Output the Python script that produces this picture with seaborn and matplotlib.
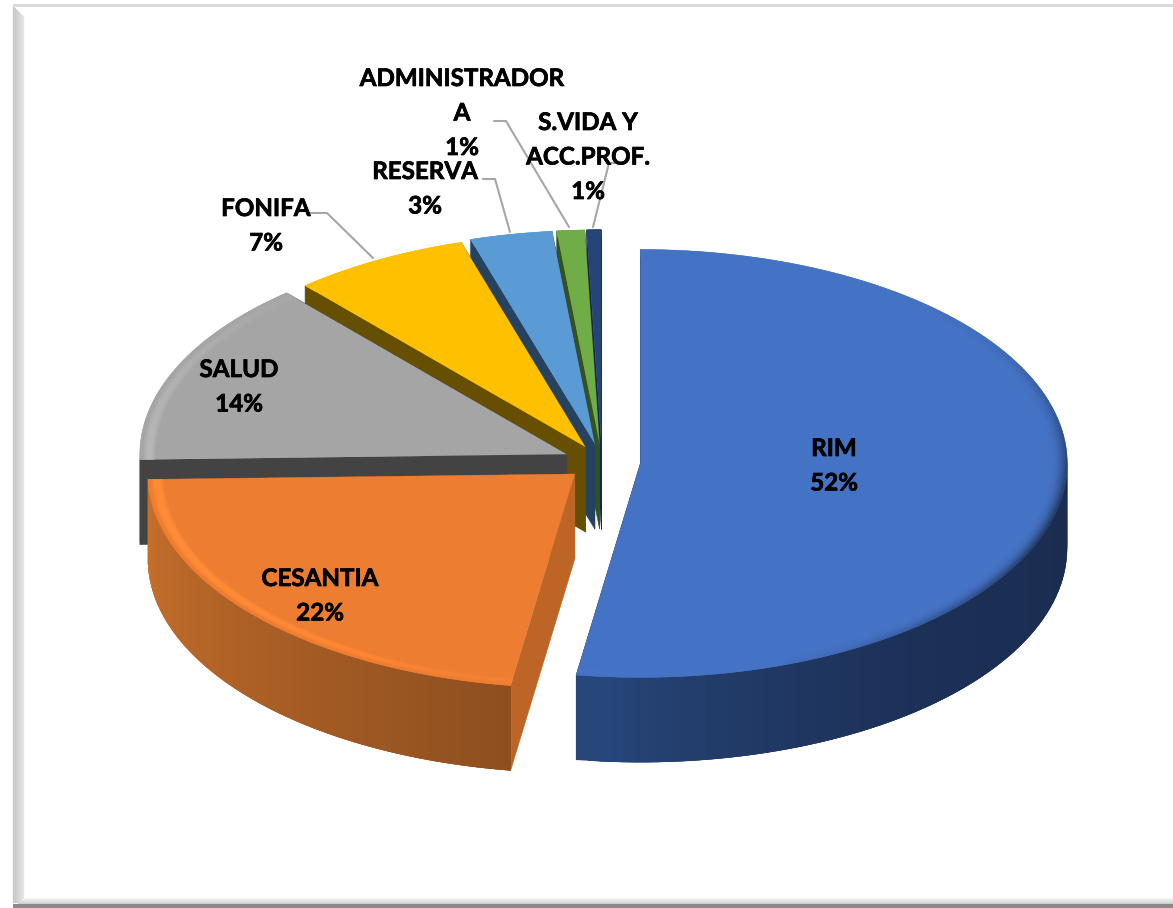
import matplotlib
matplotlib.use("Agg")
import matplotlib.patheffects as pe
import matplotlib.pyplot as plt
import numpy as np
import seaborn as sns
from matplotlib.collections import PolyCollection
from matplotlib.patches import Polygon
from matplotlib.transforms import Affine2D

# datos
categorias = ["RIM", "CESANTIA", "SALUD", "FONIFA", "RESERVA", "ADMINISTRADOR\nA", "S.VIDA Y\nACC.PROF."]
valores = [52.4, 22.2, 14.0, 6.7, 3.1, 1.05, 0.55]
porcentajes = ["52%", "22%", "14%", "7%", "3%", "1%", "1%"]
separacion = [0.09, 0.085, 0.09, 0.08, 0.085, 0.085, 0.085]
colores = ["#4472C4", "#ED7D31", "#A5A5A5", "#FFC000", "#5B9BD5", "#70AD47", "#264478"]
color_corte = ["#24406F", "#BD6526", "#434343", "#664F00", "#254261", "#33521F", "#14284C"]
lado_ini = ["#1A2C50", "#8D4E1F", "#434343", "#664F00", "#254261", "#33521F", "#14284C"]
lado_fin = ["#27467A", "#C8702C", "#434343", "#664F00", "#254261", "#33521F", "#14284C"]
potencia = [6, 1, 1, 1, 1, 1, 1]

# linea base de la primera linea de cada rotulo (px)
pos_rotulos = [(834, 456), (320, 586), (239, 377), (266, 216), (425, 179), (462, 86), (588, 130)]
guias = [
    [(310, 213), (327, 213), (373, 258)],
    [(483, 179), (495, 179), (510, 232)],
    [(494, 121), (506, 121), (569, 227)],
    [(617, 163), (609, 163), (593, 227)],
]

W, H = 1173, 908
CX, CY, RX, RY = 602, 462, 427, 214
PROF = 85 / RY
PASO_LINEA = 34.5

sns.set_theme(style="white")
plt.rcParams["font.family"] = ["Lato", "DejaVu Sans"]
paleta = sns.color_palette(colores)


def mezcla(a, b, t):
    a = np.array(matplotlib.colors.to_rgb(a))
    b = np.array(matplotlib.colors.to_rgb(b))
    return tuple(a + (b - a) * t)


fig = plt.figure(figsize=(W / 100, H / 100), dpi=100, facecolor="white")
ax = fig.add_axes([0, 0, 1, 1])
pix = Affine2D().scale(1 / W, -1 / H).translate(0, 1) + fig.transFigure

cunas, _ = ax.pie(valores, colors=paleta, startangle=90, counterclock=False,
                  explode=separacion, wedgeprops={"linewidth": 0})

n = len(cunas)
for i, w in enumerate(cunas):
    z = (n - i) * 10
    cx, cy = w.center
    t1, t2 = w.theta1, w.theta2
    w.set_zorder(z + 3)
    ang = np.radians(np.linspace(t2, t1, 120))
    x = cx + np.cos(ang)
    y = cy + np.sin(ang)

    # caras de corte
    cortes = []
    for k in (0, -1):
        cortes.append([(cx, cy), (x[k], y[k]), (x[k], y[k] - PROF), (cx, cy - PROF)])
    ax.add_collection(PolyCollection(cortes, facecolors=color_corte[i], edgecolors=color_corte[i],
                                     linewidths=0.4, zorder=z + 1))

    # borde exterior con degradado: cada franja pisa a la siguiente para que no se vean costuras
    franjas, tonos = [], []
    for k in range(len(ang) - 1, 0, -1):
        if np.sin(ang[k]) > 0.0 and np.sin(ang[k - 1]) > 0.0:
            continue
        desde = max(k - 3, 0)
        franjas.append([(x[k], y[k]), (x[desde], y[desde]), (x[desde], y[desde] - PROF), (x[k], y[k] - PROF)])
        tonos.append(mezcla(lado_ini[i], lado_fin[i], (k / (len(ang) - 1)) ** potencia[i]))
    if franjas:
        franjas, tonos = franjas[::-1], tonos[::-1]
        ax.add_collection(PolyCollection(franjas, facecolors=tonos, edgecolors="none",
                                         linewidths=0, zorder=z + 2))

    # bisel suave sobre la cara superior
    bisel, tonos = [], []
    radios = np.linspace(0.965, 1.0, 8)
    for j in range(len(radios) - 1):
        s = (j + 1) / (len(radios) - 1)
        for k in range(len(ang) - 1):
            cw = 90 - np.degrees(ang[k])
            luz = np.cos(np.radians(cw - 250))
            oscuro = max(0.0, np.sin(np.radians(cw - 15))) ** 5
            if luz > 0:
                factor = 1 + 0.14 * luz ** 2 * np.sin(np.pi * min(s * 1.1, 1))
            else:
                factor = 1 - 0.45 * oscuro * s ** 2
            col = np.clip(np.array(matplotlib.colors.to_rgb(colores[i])) * factor, 0, 1)
            a0, a1 = ang[k], ang[k + 1]
            r0, r1 = radios[j], radios[j + 1]
            bisel.append([(cx + r0 * np.cos(a0), cy + r0 * np.sin(a0)), (cx + r0 * np.cos(a1), cy + r0 * np.sin(a1)),
                          (cx + r1 * np.cos(a1), cy + r1 * np.sin(a1)), (cx + r1 * np.cos(a0), cy + r1 * np.sin(a0))])
            tonos.append(tuple(col))
    ax.add_collection(PolyCollection(bisel, facecolors=tonos, edgecolors=tonos, linewidths=0.3, zorder=z + 4))

ax.set_aspect("auto")
ax.set_xlim(-CX / RX, (W - CX) / RX)
ax.set_ylim((CY - H) / RY, CY / RY)
ax.axis("off")

# lineas guia
for g in guias:
    gx, gy = zip(*g)
    ax.plot(gx, gy, color="#A6A6A6", lw=1.5, transform=pix, zorder=200, solid_joinstyle="miter")

# rotulos, una linea cada vez
for cat, pct, (px, py) in zip(categorias, porcentajes, pos_rotulos):
    for j, linea in enumerate(cat.split("\n") + [pct]):
        ax.text(px, py + j * PASO_LINEA, linea, transform=pix, ha="center", va="baseline", fontsize=17.4,
                fontweight="bold", color="black", zorder=300,
                path_effects=[pe.withStroke(linewidth=0.5, foreground="black")])

# marco con efecto de sombra
for k in range(11):
    c = mezcla("#C6C6C6", "#E4E4E4", k / 10)
    ax.add_patch(Polygon([(13 + k, 6 + k), (14 + k, 7 + k), (14 + k, H - 5), (13 + k, H - 5)], closed=True,
                         transform=pix, facecolor=c, edgecolor=c, lw=0.2, zorder=150, clip_on=False))
ax.add_patch(Polygon([(13, 4), (W, 4), (W, 6.5), (13, 6.5)], closed=True, transform=pix,
                     facecolor="#D9D9D9", edgecolor="none", zorder=150))
for k in range(7):
    c = mezcla("#FCFCFC", "#CFCFCF", k / 6)
    ax.add_patch(Polygon([(24 - k, 897 + k), (W, 897 + k), (W, 898 + k), (24 - k, 898 + k)], closed=True,
                         transform=pix, facecolor=c, edgecolor="none", zorder=151))
ax.add_patch(Polygon([(13, 903.5), (W, 903.5), (W, H), (13, H)], closed=True, transform=pix,
                     facecolor="#8A8A8A", edgecolor="none", zorder=152))

fig.savefig("out.png", dpi=100, facecolor="white")
